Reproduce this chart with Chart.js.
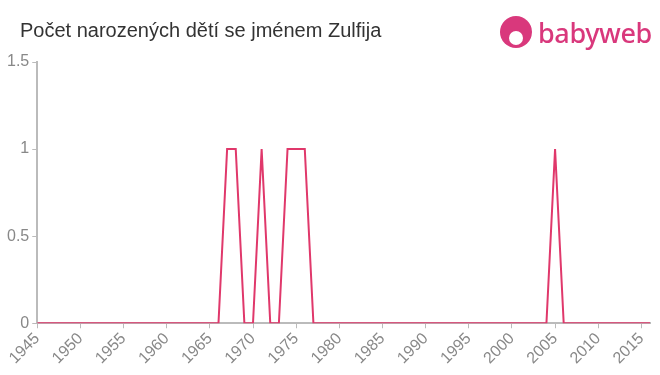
<!DOCTYPE html>
<html>
<head>
<meta charset="utf-8">
<script src="https://cdn.jsdelivr.net/npm/chart.js@4"></script>
<style>
  body { margin: 0; background: #fff; font-family: "Liberation Sans", Arial, sans-serif; }
  #wrap { position: relative; width: 660px; height: 375px; }
  #title { position: absolute; left: 20px; top: 19px; font-size: 20px; color: #333; }
  #logo { position: absolute; left: 500px; top: 14px; height: 36px; display: flex; align-items: center; }
  #logo .dot { width: 32px; height: 32px; border-radius: 50%; background: #d9387c; position: relative; }
  #logo .face { position: absolute; left: 9px; top: 15px; width: 14px; height: 14px; border-radius: 50%; background: #fff; }
  #logo .txt { font-family: "Noto Sans", sans-serif; font-size: 27px; font-weight: 500; color: #d9387c; margin-left: 6px; letter-spacing: -0.4px; }
  canvas { position: absolute; left: 0; top: 0; }
</style>
</head>
<body>
<div id="wrap">
  <canvas id="chart" width="660" height="375"></canvas>
  <div id="title">Počet narozených dětí se jménem Zulfija</div>
  <div id="logo"><div class="dot"><div class="face"></div></div><span class="txt">babyweb</span></div>
</div>
<script>
// roky a počty
const years = [];
for (let y = 1945; y <= 2016; y++) years.push(y);
const counts = [
  0, 0, 0, 0, 0, 0, 0, 0, 0, 0,   // 1945-1954
  0, 0, 0, 0, 0, 0, 0, 0, 0, 0,   // 1955-1964
  0, 0, 1, 1, 0, 0, 1, 0, 0, 1,   // 1965-1974
  1, 1, 0, 0, 0, 0, 0, 0, 0, 0,   // 1975-1984
  0, 0, 0, 0, 0, 0, 0, 0, 0, 0,   // 1985-1994
  0, 0, 0, 0, 0, 0, 0, 0, 0, 0,   // 1995-2004
  1, 0, 0, 0, 0, 0, 0, 0, 0, 0,   // 2005-2014
  0, 0                            // 2015-2016
];
const xTicks = [1945, 1950, 1955, 1960, 1965, 1970, 1975, 1980, 1985, 1990, 1995, 2000, 2005, 2010, 2015];
const yTicks = [0, 0.5, 1, 1.5];

const axisColor = '#bbbbbb';
const tickColor = '#888888';
const tickFont = { size: 16, family: '"Liberation Sans", Arial, sans-serif' };

new Chart(document.getElementById('chart').getContext('2d'), {
  type: 'line',
  data: {
    datasets: [{
      data: years.map((y, i) => ({ x: y, y: counts[i] })),
      borderColor: '#e0386b',
      borderWidth: 2,
      pointRadius: 0,
      tension: 0,
      fill: false
    }]
  },
  options: {
    responsive: false,
    animation: false,
    layout: { padding: { top: 62, right: 10, left: 4, bottom: 6 } },
    plugins: { legend: { display: false }, title: { display: false }, tooltip: { enabled: false } },
    scales: {
      x: {
        type: 'linear',
        min: 1945,
        max: 2016,
        afterBuildTicks: s => { s.ticks = xTicks.map(v => ({ value: v })); },
        grid: { display: true, drawOnChartArea: false, color: axisColor, tickLength: 5 },
        border: { color: axisColor, width: 2 },
        ticks: {
          autoSkip: false,
          maxRotation: 45,
          minRotation: 45,
          color: tickColor,
          font: tickFont,
          callback: v => String(v),
          padding: 1
        }
      },
      y: {
        min: 0,
        max: 1.5,
        afterBuildTicks: s => { s.ticks = yTicks.map(v => ({ value: v })); },
        grid: { display: true, drawOnChartArea: false, color: axisColor, tickLength: 5 },
        border: { color: axisColor, width: 2 },
        ticks: {
          color: tickColor,
          font: tickFont,
          padding: 3,
          callback: v => String(v)
        }
      }
    }
  }
});
</script>
</body>
</html>
